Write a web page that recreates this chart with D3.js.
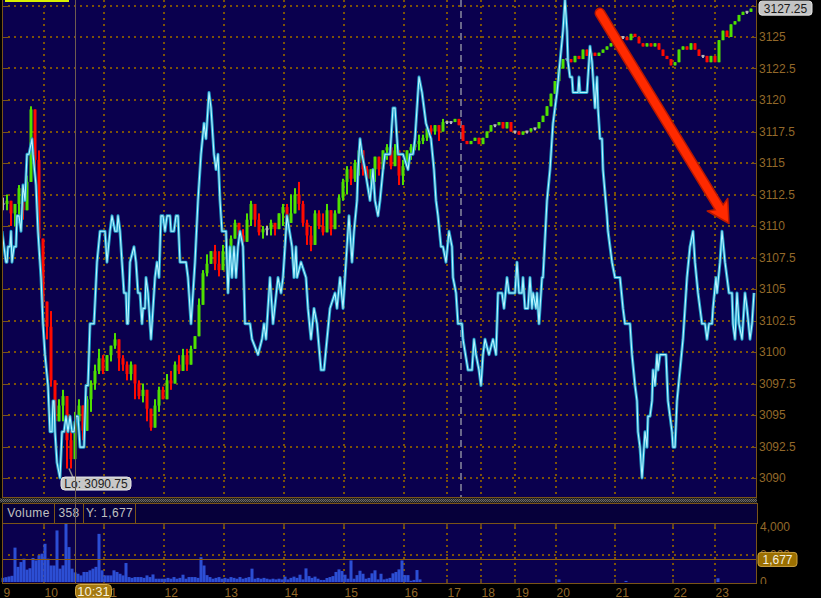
<!DOCTYPE html>
<meta charset="utf-8">
<body style="margin:0;background:#000">
<style>
  text { font-family: "Liberation Sans", Arial, sans-serif; font-size: 12px; }
  .tick { fill: #93692a; }
  .grid { stroke: #7c5208; stroke-width: 2; stroke-dasharray: 2,4; shape-rendering: crispEdges; }
  .frame { fill: none; stroke: #7a5418; shape-rendering: crispEdges; }
</style>
<svg width="821" height="598"></svg>
<script src="https://d3js.org/d3.v7.min.js"></script>
<script>

// ---- data ----
var hourLabels = ["9","10","11","12","13","14","15","16","17","18","19","20","21","22","23"];
var hourBars   = [0, 42, 102, 162, 222, 282, 342, 402, 445, 479, 513, 554, 613, 671, 713];

var priceTicks = [3090, 3092.5, 3095, 3097.5, 3100, 3102.5, 3105, 3107.5, 3110,
                  3112.5, 3115, 3117.5, 3120, 3122.5, 3125];
var volTicks = [0, 2000, 4000];

// one candle every 4 bars, starting at bar 1
var candleStart = 1, candleStep = 4;
var closes = [
  3111.75, 3112, 3111, 3111.75, 3113, 3111.25, 3113.5, 3119.25, 3115.25, 3109,
  3104, 3102, 3097.75, 3094.5, 3095.75, 3096.5, 3093, 3091.5, 3094.5, 3095.75,
  3093.75, 3096.25, 3097.5, 3098.5, 3099.5, 3098.5, 3099.75, 3100.5, 3101, 3099.5,
  3099, 3098.25, 3099, 3097.5, 3096.5, 3097, 3095.5, 3094, 3095.75, 3097,
  3096.25, 3097.75, 3097.5, 3099, 3098.5, 3099.75, 3099, 3100.25, 3101.25, 3103.75,
  3106.25, 3107, 3108, 3107, 3106.5, 3108, 3107.75, 3109, 3110.25, 3109.25,
  3108.75, 3110.5, 3111.75, 3110.5, 3109.5, 3109.75, 3109.75, 3110.25, 3109.75, 3111,
  3111.5, 3110.25, 3111, 3112.5, 3111.75, 3110.25, 3109.25, 3108.5, 3111, 3110,
  3109.5, 3111.25, 3109.75, 3111, 3112.25, 3113.5, 3114.5, 3113.75, 3115, 3116,
  3114.5, 3113.75, 3114.5, 3115.5, 3114.5, 3116, 3116.25, 3114.75, 3116, 3114,
  3114.75, 3116, 3116.25, 3116.5, 3116.75, 3117, 3117.75, 3117.5, 3118, 3117.5,
  3118.25,
  3118.25, 3118.25, 3118.5, 3118, 3116.75, 3116.5, 3116.75, 3117, 3116.5, 3117,
  3117.5, 3118, 3118, 3118.25, 3117.75, 3118.25, 3117.5, 3117.5, 3117.25, 3117.5,
  3117.5, 3117.75, 3117.75, 3118.25, 3118.75, 3119.5, 3120.5, 3121.5, 3122.5, 3123.25,
  3123.25, 3123, 3123.5, 3123.25, 3124, 3123.5, 3123.75, 3123.5, 3123.75, 3124,
  3124.25, 3124.5, 3124.75, 3125, 3125, 3124.75, 3125.25, 3125, 3124.5, 3124.25,
  3124.5, 3124.25, 3124.5, 3124, 3123.5, 3123.25, 3122.75, 3123, 3124, 3124.25,
  3124, 3124.5, 3124, 3123.5, 3123.5, 3123, 3123.5, 3123, 3124.75, 3125.5,
  3125, 3126, 3126.25, 3126.75, 3127, 3127, 3127.25
];
// ranges of the regular-session candles (first 111)
var highs = [
  3112.25, 3112.5, 3112, 3111.25, 3113.25, 3113.25, 3114, 3119.5, 3119.25, 3116,
  3106.25, 3103.5, 3103.25, 3097.75, 3096.25, 3097, 3095.25, 3093.75, 3095.25, 3096.25,
  3094.5, 3096.5, 3097.75, 3099, 3100.25, 3099.75, 3099.75, 3100.5, 3101.5, 3100.5,
  3099.75, 3099.25, 3099.25, 3098.5, 3097.75, 3097.5, 3096.25, 3095, 3096.25, 3097.25,
  3097.25, 3098.25, 3098.5, 3099.25, 3099.75, 3100.25, 3100.25, 3100.5, 3101.25, 3104.25,
  3106.5, 3107.75, 3108, 3108.5, 3108, 3108.5, 3109, 3109.25, 3110.5, 3110,
  3109.75, 3111, 3112, 3111.75, 3111, 3110, 3110, 3110.5, 3110, 3111,
  3111.75, 3111.75, 3112.5, 3113, 3113.5, 3112, 3110.5, 3110, 3111.25, 3111.25,
  3111, 3111.75, 3111, 3111.25, 3112.5, 3113.75, 3114.75, 3114.75, 3115.25, 3116,
  3115.25, 3114.75, 3114.5, 3115.25, 3115.25, 3116, 3116.5, 3116, 3116.5, 3115.25,
  3115.25, 3116, 3116.5, 3116.75, 3117.25, 3117.25, 3117.75, 3118, 3118, 3117.5,
  3118.5
];
var lows = [
  3111.25, 3111.25, 3110, 3110, 3110.25, 3110.5, 3111.25, 3113.75, 3114.5, 3108,
  3103.5, 3101, 3097.25, 3093.75, 3094.5, 3094.5, 3090.75, 3090.75, 3093, 3094.5,
  3093, 3094.5, 3095.25, 3097, 3098.25, 3098.25, 3098.5, 3099.25, 3100.25, 3098.5,
  3098.5, 3097.75, 3097.75, 3096.25, 3096.25, 3096, 3094.5, 3093.75, 3094.5, 3095.25,
  3096.25, 3096.5, 3097, 3097.75, 3098.25, 3098.5, 3098.5, 3099.25, 3100.25, 3101.75,
  3104.25, 3106, 3107, 3106.5, 3106, 3107, 3107.75, 3108.5, 3109, 3109,
  3108.5, 3109.25, 3110, 3110, 3109.25, 3109, 3109.25, 3109.25, 3109.25, 3109.75,
  3110, 3109.75, 3110.5, 3111, 3111.25, 3110, 3108.5, 3108, 3109.75, 3109.75,
  3109.25, 3110, 3109.25, 3110, 3111, 3112, 3112.5, 3113.25, 3113.5, 3114,
  3114, 3113.5, 3113, 3113.5, 3114, 3115, 3115.25, 3114.5, 3115.25, 3113.25,
  3113.25, 3114.75, 3115.25, 3116, 3116, 3116.5, 3116.75, 3117.25, 3117.25, 3116.75,
  3118
];

// divergence line: [bar, level]
var divergence = [
  [0,16],[2,15],[4,14],[5,14],[6,15],[8,15],[9,16],[10,14],[12,15],[14,15],[15,17],[17,17],
  [19,16],[21,19],[23,18],[25,21],[27,21],[30,22],[31,21],[34,19],[36,16],[39,13],[41,10],
  [43,8],[46,6],[48,3],[50,3],[51,5],[52,5],[53,3],[55,1],[58,0],[60,3],[62,3],[64,4],
  [66,3],[68,4],[70,3],[72,3],[74,4],[76,4],[78,2],[82,2],[84,6],[86,6],[88,10],[92,10],
  [95,14],[98,16],[103,16],[105,14],[108,16],[110,17],[113,16],[115,16],[116,17],[118,16],
  [120,14],[122,12],[124,12],[125,10],[126,10],[128,14],[132,15],[134,14],[136,12],[138,12],
  [140,10],[141,11],[143,11],[144,13],[146,12],[149,9],[151,11],[153,13],[155,14],[157,13],
  [159,17],[161,17],[163,16],[165,17],[168,17],[169,16],[172,16],[174,17],[176,17],[178,14],
  [184,14],[186,13],[189,10],[193,14],[196,18],[199,21],[202,23],[204,22],[207,25],[209,24],
  [212,21],[214,20],[216,21],[218,18],[220,16],[224,16],[226,12],[228,15],[230,13],[232,15],
  [234,13],[236,15],[238,16],[241,15],[243,10],[248,10],[250,9],[256,8],[260,9],[262,10],
  [264,9],[268,13],[271,10],[276,13],[279,12],[281,13],[283,15],[285,17],[290,15],[292,13],
  [294,15],[295,13],[299,14],[304,13],[306,11],[309,9],[312,11],[315,10],[319,7],[322,7],
  [325,9],[328,11],[333,12],[335,11],[338,13],[341,11],[343,13],[345,15],[347,17],[350,14],
  [352,16],[355,18],[356,20],[358,22],[360,21],[363,20],[368,18],[371,20],[373,18],[376,17],
  [378,18],[381,20],[383,21],[388,21],[391,24],[393,24],[395,22],[396,21],[401,21],[406,20],
  [408,21],[411,21],[413,22],[415,24],[417,26],[420,25],[424,23],[429,22],[432,20],[434,18],
  [436,17],[439,15],[441,15],[444,14],[447,16],[450,15],[451,13],[454,12],[456,10],[460,10],
  [461,9],[466,7],[470,7],[472,9],[474,8],[477,7],[479,6],[481,8],[483,9],[487,8],[491,9],
  [494,8],[496,12],[500,12],[502,11],[505,13],[507,12],[513,12],[515,14],[517,12],[520,12],
  [521,13],[523,11],[526,11],[528,13],[530,11],[531,12],[534,11],[535,12],[537,10],[540,13],
  [541,13],[545,18],[548,20],[551,23],[553,24],[555,25],[558,27],[561,29],[563,31],[565,29],
  [566,27],[568,26],[570,26],[571,25],[576,25],[577,26],[578,25],[585,25],[586,26],[588,28],
  [590,27],[591,26],[593,24],[595,26],[596,24],[598,22],[600,22],[601,20],[605,17],[606,16],
  [608,15],[610,14],[613,13],[618,13],[621,11],[623,10],[628,10],[630,8],[633,6],[635,5],
  [636,3],[638,2],[640,0],[641,1],[643,3],[645,2],[646,4],[648,4],[650,5],[651,7],[653,6],
  [655,8],[656,7],[658,8],[664,8],[666,5],[668,4],[670,3],[671,2],[673,2],[675,5],[678,7],
  [681,9],[683,11],[685,13],[688,15],[691,16],[693,14],[696,12],[700,10],[703,10],[705,9],
  [707,10],[710,10],[711,11],[714,13],[715,12],[718,14],[720,16],[723,14],[725,13],[727,12],
  [730,12],[731,10],[733,9],[735,12],[737,10],[740,9],[743,12],[745,11],[748,9],[750,10],[752,12]
];

// volume: one value every 3 bars from bar 1 (regular session)
var volStart = 1, volStep = 3;
var volumes = [
  300, 350, 400, 450, 2500, 1100, 1450, 1700, 900, 1000, 1750, 1570, 1940, 2060, 2780,
  1700, 1200, 1200, 3750, 970, 1210, 4240, 2540, 970, 700, 600, 480, 730, 730, 850,
  970, 1100, 3500, 850, 480, 480, 480, 850, 730, 600, 480, 1380, 360, 300, 360,
  360, 360, 300, 480, 360, 550, 240, 240, 240, 240, 300, 240, 360, 240, 300,
  530, 240, 360, 360, 360, 300, 1800, 1200, 500, 360, 240, 300, 360, 240, 300,
  240, 360, 300, 240, 360, 240, 300, 360, 970, 240, 300, 240, 300, 240, 190,
  240, 190, 240, 190, 390, 190, 300, 390, 300, 530, 190, 990, 430, 300, 390,
  240, 150, 150, 290, 360, 430, 730, 920, 800, 530, 240, 1570, 240, 500, 820,
  600, 240, 300, 630, 850, 190, 600, 190, 240, 300, 630, 730, 920, 1570, 500,
  500, 90, 150, 870, 190
];
var overnightVol = [[557, 190], [624, 80], [716, 270]];

var lastPrice = 3127.25, lowPrice = 3090.75, lowBar = 67;
var cursorBar = 73, cursorLabel = "10:31", cursorVol = 358, lastVol = 1677;
var sessionBreakBar = 459;
var arrowFrom = [598, 3126.9], arrowTo = [727, 3110.2];

// ---- layout ----
var svg = d3.select("svg"),
    width = +svg.attr("width"),
    height = +svg.attr("height");

var plot = {left: 2, right: 756, top: 0, bottom: 497};
var head = {top: 503, bottom: 523};
var vp = {top: 523, bottom: 583};

var x = d3.scaleLinear().domain([0, 754]).range([plot.left, plot.right]);
var y = d3.scaleLinear().domain([3090, 3127.5]).range([478, 5.5]);
var yDiv = d3.scaleLinear().domain([0, 31]).range([y(3090), 0]);
var yVol = d3.scaleLinear().domain([0, 4000]).range([582, 527]);

svg.append("rect").attr("width", width).attr("height", height).attr("fill", "#000");

var defs = svg.append("defs");
defs.append("clipPath").attr("id", "clipMain").append("rect")
    .attr("x", plot.left).attr("y", plot.top)
    .attr("width", plot.right - plot.left).attr("height", plot.bottom - plot.top);
var pat = defs.append("pattern").attr("id", "checker")
    .attr("width", 2).attr("height", 2).attr("patternUnits", "userSpaceOnUse");
pat.append("rect").attr("width", 2).attr("height", 2).attr("fill", "#2a2a2a");
pat.append("rect").attr("width", 1).attr("height", 1).attr("fill", "#6a6a6a");
pat.append("rect").attr("x", 1).attr("y", 1).attr("width", 1).attr("height", 1).attr("fill", "#6a6a6a");

// main panel
svg.append("rect")
    .attr("x", plot.left).attr("y", plot.top)
    .attr("width", plot.right - plot.left).attr("height", plot.bottom - plot.top)
    .attr("fill", "#0a004e");

var grid = svg.append("g");
grid.selectAll(".hg").data(priceTicks.concat([3127.5])).enter().append("line")
    .attr("class", "grid")
    .attr("x1", plot.left + 6).attr("x2", plot.right)
    .attr("y1", function(d) { return Math.round(y(d)); })
    .attr("y2", function(d) { return Math.round(y(d)); });
grid.selectAll(".vg").data(hourBars.slice(1)).enter().append("line")
    .attr("class", "grid")
    .attr("x1", function(d) { return Math.round(x(d)); })
    .attr("x2", function(d) { return Math.round(x(d)); })
    .attr("y1", plot.top).attr("y2", plot.bottom);

// tick dashes on both sides
grid.selectAll(".lt").data(priceTicks.concat([3127.5])).enter().append("line")
    .attr("stroke", "#7a5418").attr("shape-rendering", "crispEdges")
    .attr("x1", plot.left).attr("x2", plot.left + 6)
    .attr("y1", function(d) { return Math.round(y(d)) + 0.5; })
    .attr("y2", function(d) { return Math.round(y(d)) + 0.5; });
grid.selectAll(".rt").data(priceTicks.concat([3127.5])).enter().append("line")
    .attr("stroke", "#7a5418").attr("shape-rendering", "crispEdges")
    .attr("x1", plot.right - 5).attr("x2", plot.right)
    .attr("y1", function(d) { return Math.round(y(d)) + 0.5; })
    .attr("y2", function(d) { return Math.round(y(d)) + 0.5; });

// session break
svg.append("line")
    .attr("x1", x(sessionBreakBar)).attr("x2", x(sessionBreakBar))
    .attr("y1", plot.top).attr("y2", plot.bottom)
    .attr("stroke", "#8a8aa0").attr("stroke-width", 1.5).attr("stroke-dasharray", "7,4");

// candles
var candles = closes.map(function(c, i) {
  var o = i ? closes[i - 1] : c;
  var hi = i < highs.length ? Math.max(highs[i], o, c) : Math.max(o, c);
  var lo = i < lows.length ? Math.min(lows[i], o, c) : Math.min(o, c);
  return {bar: candleStart + i * candleStep, open: o, close: c, high: hi, low: lo};
});
function candleColor(d) {
  return d.close > d.open ? "#4fe000" : d.close < d.open ? "#ff0a00" : "#b8b8b8";
}
var main = svg.append("g").attr("clip-path", "url(#clipMain)");
var cg = main.append("g").selectAll("g").data(candles).enter().append("g");
cg.append("rect")
    .attr("x", function(d) { return x(d.bar) - 1; })
    .attr("width", 2)
    .attr("y", function(d) { return y(d.high); })
    .attr("height", function(d) { return Math.max(2, y(d.low) - y(d.high)); })
    .attr("fill", candleColor);
cg.append("rect")
    .attr("x", function(d) { return x(d.bar) - 1.5; })
    .attr("width", 3)
    .attr("y", function(d) {
      var t = y(Math.max(d.open, d.close)), b = y(Math.min(d.open, d.close));
      return b - t < 2 ? (t + b) / 2 - 1 : t;
    })
    .attr("height", function(d) { return Math.max(2, Math.abs(y(d.open) - y(d.close))); })
    .attr("fill", candleColor);

// divergence line with glow
var line = d3.line().x(function(d) { return x(d[0]); }).y(function(d) { return yDiv(d[1]); });
main.append("path").datum(divergence).attr("d", line)
    .attr("fill", "none").attr("stroke", "#1f9cc8").attr("stroke-width", 3)
    .attr("stroke-linejoin", "round");
main.append("path").datum(divergence).attr("d", line)
    .attr("fill", "none").attr("stroke", "#b8f4ff").attr("stroke-width", 1.1)
    .attr("stroke-linejoin", "round");

// red arrow
(function() {
  var p0 = [x(arrowFrom[0]), y(arrowFrom[1])], p1 = [x(arrowTo[0]), y(arrowTo[1])];
  var dx = p1[0] - p0[0], dy = p1[1] - p0[1], len = Math.sqrt(dx * dx + dy * dy);
  var ux = dx / len, uy = dy / len, nx = -uy, ny = ux;
  var hl = 22, hw = 12;
  var bx = p1[0] - ux * hl, by = p1[1] - uy * hl;
  var g = main.append("g");
  g.append("line").attr("x1", p0[0]).attr("y1", p0[1]).attr("x2", bx + ux * 4).attr("y2", by + uy * 4)
      .attr("stroke", "#b81800").attr("stroke-width", 11).attr("stroke-linecap", "round");
  g.append("polygon")
      .attr("points", [[p1[0], p1[1]], [bx + nx * hw, by + ny * hw], [bx + ux * 5, by + uy * 5], [bx - nx * hw, by - ny * hw]].join(" "))
      .attr("fill", "#ff2a00").attr("stroke", "#b81800").attr("stroke-width", 1.5).attr("stroke-linejoin", "round");
  g.append("line").attr("x1", p0[0]).attr("y1", p0[1]).attr("x2", bx + ux * 4).attr("y2", by + uy * 4)
      .attr("stroke", "#ff2a00").attr("stroke-width", 8).attr("stroke-linecap", "round");
})();

// legend stub
svg.append("rect").attr("x", 5).attr("y", 0).attr("width", 64).attr("height", 2).attr("fill", "#d8f000");

// main frame
svg.append("path").attr("class", "frame")
    .attr("d", "M" + (plot.left + 0.5) + "," + plot.top + "V" + (plot.bottom + 0.5) +
               "H" + (plot.right + 0.5) + "V" + plot.top);

// price axis labels
svg.append("g").selectAll("text").data(priceTicks).enter().append("text")
    .attr("class", "tick")
    .attr("x", plot.right + 3).attr("y", function(d) { return y(d); })
    .attr("dy", "0.36em")
    .text(function(d) { return d % 1 ? d.toFixed(1) : d; });

// last price box
svg.append("rect").attr("x", plot.right + 3).attr("y", y(lastPrice) - 7.5)
    .attr("width", 53).attr("height", 14).attr("rx", 3)
    .attr("fill", "#c4c4c4").attr("stroke", "#e4e4e4");
svg.append("text").attr("x", plot.right + 29.5).attr("y", y(lastPrice)).attr("dy", "0.36em")
    .attr("text-anchor", "middle").attr("fill", "#1a1a1a").text(lastPrice.toFixed(2));

// low callout
svg.append("line").attr("x1", x(lowBar)).attr("y1", y(lowPrice))
    .attr("x2", x(lowBar) + 4).attr("y2", y(lowPrice) + 9)
    .attr("stroke", "#909090").attr("stroke-width", 1.5);
svg.append("rect").attr("x", x(lowBar) - 8).attr("y", y(lowPrice) + 8.5)
    .attr("width", 70).attr("height", 13).attr("rx", 4)
    .attr("fill", "#c8c8c8").attr("stroke", "#e8e8e8");
svg.append("text").attr("x", x(lowBar) + 27).attr("y", y(lowPrice) + 15).attr("dy", "0.36em")
    .attr("text-anchor", "middle").attr("fill", "#202020").text("Lo: " + lowPrice.toFixed(2));

// splitter
svg.append("rect").attr("x", 0).attr("y", plot.bottom + 1.5).attr("width", plot.right + 1).attr("height", 4)
    .attr("fill", "url(#checker)");

// volume header
svg.append("rect").attr("x", plot.left + 0.5).attr("y", head.top + 0.5)
    .attr("width", plot.right - plot.left + 1).attr("height", head.bottom - head.top)
    .attr("fill", "#06003a").attr("stroke", "#7a5418");
var cells = [{x: 2, w: 52, t: "Volume"}, {x: 54, w: 29, t: String(cursorVol)},
             {x: 83, w: 52, t: "Y: " + d3.format(",")(lastVol)}];
svg.append("g").selectAll("rect").data(cells).enter().append("rect")
    .attr("x", function(d) { return d.x + 0.5; }).attr("y", head.top + 0.5)
    .attr("width", function(d) { return d.w; }).attr("height", head.bottom - head.top)
    .attr("fill", "none").attr("stroke", "#7a5418");
svg.append("g").selectAll("text").data(cells).enter().append("text")
    .attr("x", function(d) { return d.x + d.w / 2 + 0.5; }).attr("y", head.top + 13.5)
    .attr("text-anchor", "middle").attr("fill", "#c0c0c0").attr("letter-spacing", "0.4px")
    .text(function(d) { return d.t; });

// volume panel
svg.append("rect").attr("x", plot.left).attr("y", vp.top)
    .attr("width", plot.right - plot.left).attr("height", vp.bottom - vp.top)
    .attr("fill", "#0a004e");
svg.append("line").attr("class", "grid")
    .attr("x1", plot.left + 6).attr("x2", plot.right)
    .attr("y1", Math.round(yVol(2000))).attr("y2", Math.round(yVol(2000)));
svg.append("g").selectAll("line").data(hourBars.slice(1)).enter().append("line")
    .attr("class", "grid")
    .attr("x1", function(d) { return Math.round(x(d)); })
    .attr("x2", function(d) { return Math.round(x(d)); })
    .attr("y1", vp.top + 4).attr("y2", vp.bottom - 4);
svg.append("g").selectAll("path").data(hourBars.slice(1)).enter().append("path")
    .attr("stroke", "#7a5418").attr("stroke-width", 1.5)
    .attr("d", function(d) {
      var xx = Math.round(x(d));
      return "M" + xx + "," + vp.top + "v4M" + xx + "," + vp.bottom + "v-4";
    });

var volData = volumes.map(function(v, i) { return [volStart + i * volStep, v]; }).concat(overnightVol);
svg.append("g").selectAll("rect").data(volData).enter().append("rect")
    .attr("x", function(d) { return x(d[0]) - 1.5; }).attr("width", 3)
    .attr("y", function(d) { return yVol(d[1]); })
    .attr("height", function(d) { return yVol(0) - yVol(d[1]); })
    .attr("fill", "#2c4ed4");

svg.append("line").attr("x1", plot.left).attr("x2", plot.right)
    .attr("y1", Math.round(yVol(lastVol)) + 0.5).attr("y2", Math.round(yVol(lastVol)) + 0.5)
    .attr("stroke", "#8a5c14");

svg.append("rect").attr("class", "frame")
    .attr("x", plot.left + 0.5).attr("y", vp.top + 0.5)
    .attr("width", plot.right - plot.left).attr("height", vp.bottom - vp.top);

// volume axis labels
svg.append("g").selectAll("text").data(volTicks).enter().append("text")
    .attr("class", "tick")
    .attr("x", plot.right + 4).attr("y", function(d) { return yVol(d); })
    .attr("dy", "0.36em")
    .text(function(d) { return d3.format(",")(d); });

// cursor line
svg.append("line").attr("x1", x(cursorBar) + 0.5).attr("x2", x(cursorBar) + 0.5)
    .attr("y1", 0).attr("y2", vp.bottom)
    .attr("stroke", "#6e5c50").attr("shape-rendering", "crispEdges");

// last volume box
svg.append("rect").attr("x", plot.right + 2).attr("y", yVol(lastVol) - 6.5)
    .attr("width", 39).attr("height", 14).attr("rx", 3)
    .attr("fill", "#9b6f00").attr("stroke", "#caa040");
svg.append("text").attr("x", plot.right + 21.5).attr("y", yVol(lastVol) + 0.5).attr("dy", "0.36em")
    .attr("text-anchor", "middle").attr("fill", "#f4f0e0").text(d3.format(",")(lastVol));

// time axis band
svg.append("rect").attr("x", 0).attr("y", vp.bottom + 1).attr("width", width).attr("height", height - vp.bottom)
    .attr("fill", "#000");
svg.append("g").selectAll("text").data(hourBars).enter().append("text")
    .attr("class", "tick")
    .attr("x", function(d, i) { return i ? x(d) + 0.5 : x(d) + 1.5; })
    .attr("y", 596.5)
    .text(function(d, i) { return hourLabels[i]; });

// cursor time box
svg.append("rect").attr("x", x(cursorBar) + 0.5).attr("y", vp.bottom + 1.5)
    .attr("width", 36).attr("height", 13.5).attr("rx", 4)
    .attr("fill", "#a47810").attr("stroke", "#d2a848");
svg.append("text").attr("x", x(cursorBar) + 18.5).attr("y", vp.bottom + 8.5).attr("dy", "0.38em")
    .attr("text-anchor", "middle").attr("fill", "#f6f0dc").style("font-size", "13px").text(cursorLabel);

</script>
</body>
